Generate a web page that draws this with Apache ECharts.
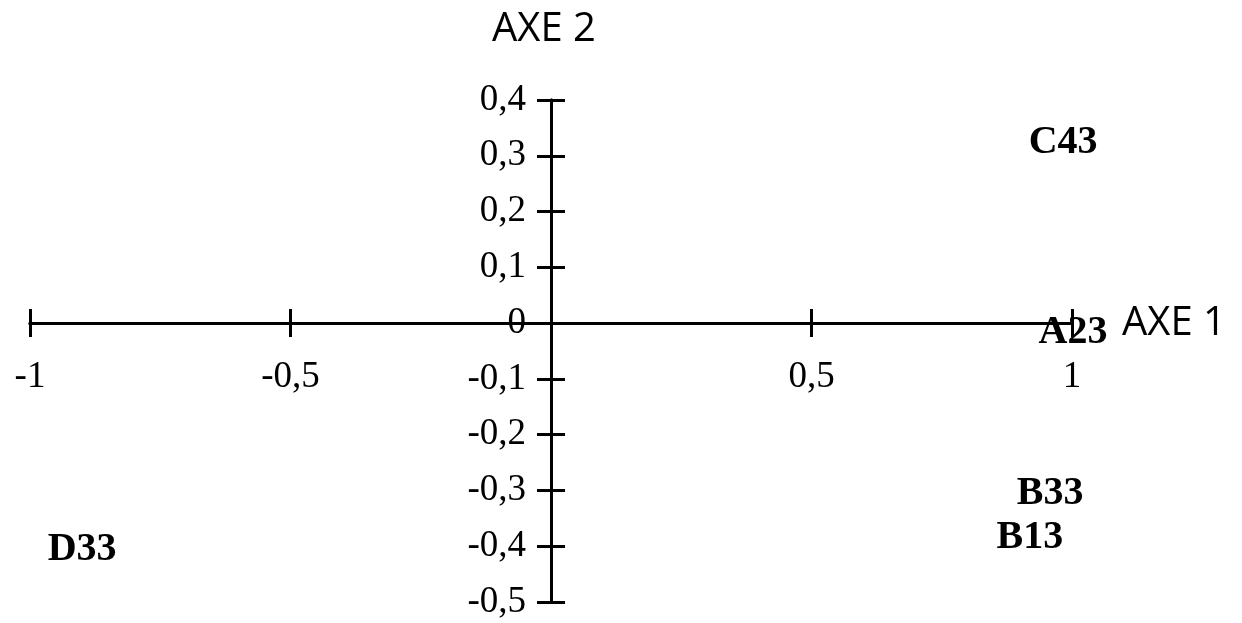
<!DOCTYPE html>
<html>
<head>
<meta charset="utf-8">
<script src="https://cdn.jsdelivr.net/npm/echarts@6/dist/echarts.min.js"></script>
<style>
html,body{margin:0;padding:0;background:#fff;}
#chart{width:1242px;height:623px;}
</style>
</head>
<body>
<div id="chart"></div>
<script>
// Data
var labels = ['C43', 'A23', 'B33', 'B13', 'D33'];
var axe1 = [0.983, 1.002, 0.958, 0.919, -0.900];
var axe2 = [0.324, -0.018, -0.306, -0.384, -0.407];
var xTicks = {min: -1, max: 1, interval: 0.5};
var yTicks = {min: -0.5, max: 0.4, interval: 0.1};
var axisNames = ['AXE 1', 'AXE 2'];

var points = labels.map(function (n, i) { return [axe1[i], axe2[i], n]; });

function fmt(v) {
  var r = Math.round(v * 10) / 10;
  return String(r).replace('.', ',');
}

var lineStyle = {color: '#000', width: 3};
var tickFont = {fontFamily: 'Liberation Serif', fontSize: 37, color: '#000'};

function xAxisDef(pos, main, offset) {
  return {
    type: 'value', min: xTicks.min, max: xTicks.max, interval: xTicks.interval,
    position: pos, offset: offset,
    axisLine: {onZero: false, lineStyle: lineStyle},
    axisTick: {show: true, inside: false, length: 14, lineStyle: lineStyle},
    splitLine: {show: false},
    axisLabel: main ? Object.assign({margin: 36, formatter: function (v) { return Math.abs(v) < 1e-9 ? '' : fmt(v); }}, tickFont) : {show: false},
    name: main ? axisNames[0] : '', nameLocation: 'end', nameGap: 50,
    nameTextStyle: {fontFamily: 'Open Sans', fontSize: 40, color: '#000'}
  };
}
function yAxisDef(pos, main, offset) {
  return {
    type: 'value', min: yTicks.min, max: yTicks.max, interval: yTicks.interval,
    position: pos, offset: offset,
    axisLine: {onZero: false, lineStyle: lineStyle},
    axisTick: {show: true, inside: false, length: 14, lineStyle: lineStyle},
    splitLine: {show: false},
    axisLabel: main ? Object.assign({margin: 25, formatter: fmt}, tickFont) : {show: false},
    name: main ? axisNames[1] : '', nameLocation: 'end', nameGap: 50,
    nameTextStyle: {fontFamily: 'Open Sans', fontSize: 40, color: '#000', padding: [0, 14, 0, 0]}
  };
}

function buildOption(off) {
  return {
    animation: false,
    backgroundColor: '#fff',
    grid: {left: 30, right: 170, top: 100, bottom: 21, containLabel: false, outerBoundsMode: 'none'},
    xAxis: [xAxisDef('bottom', true, off.bottom), xAxisDef('top', false, off.top)],
    yAxis: [yAxisDef('left', true, off.left), yAxisDef('right', false, off.right)],
    series: [{
      type: 'scatter',
      xAxisIndex: 0, yAxisIndex: 0,
      clip: false,
      symbolSize: 0,
      itemStyle: {color: '#000'},
      data: points,
      label: {
        show: true, position: 'inside',
        formatter: function (p) { return p.data[2]; },
        fontFamily: 'Liberation Serif', fontWeight: 'bold', fontSize: 40,
        color: '#000', textBorderWidth: 0, opacity: 1
      },
      z: 10
    }]
  };
}

var chart = echarts.init(document.getElementById('chart'), null, {renderer: 'canvas'});
chart.setOption(buildOption({bottom: 0, top: 0, left: 0, right: 0}));
// place the axes through the origin using the library's own scales
var f = {xAxisIndex: 0, yAxisIndex: 0};
var o = chart.convertToPixel(f, [0, 0]);
var lo = chart.convertToPixel(f, [xTicks.min, yTicks.min]);
var hi = chart.convertToPixel(f, [xTicks.max, yTicks.max]);
chart.setOption(buildOption({
  left: lo[0] - o[0],
  right: o[0] - hi[0],
  bottom: o[1] - lo[1],
  top: hi[1] - o[1]
}));
</script>
</body>
</html>
